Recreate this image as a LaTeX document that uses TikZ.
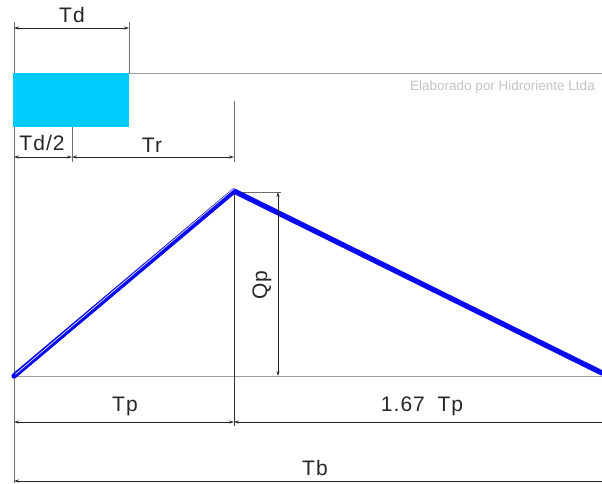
\documentclass[tikz,border=0pt]{standalone}
\usetikzlibrary{arrows.meta}
\usepackage{fontspec}
\setmainfont{Liberation Sans}
\definecolor{hcyan}{RGB}{0,204,255}
\definecolor{hblue}{RGB}{10,10,240}
\definecolor{extgray}{RGB}{110,110,110}
\definecolor{lightgray}{RGB}{160,160,160}
\definecolor{wmgray}{RGB}{195,195,195}
\tikzset{
  dimline/.style={draw=black!85, line width=0.7pt, {Stealth[length=5pt,width=3pt]}-{Stealth[length=5pt,width=3pt]}},
  extline/.style={draw=extgray, line width=0.6pt},
  guideline/.style={draw=lightgray, line width=0.8pt},
  lbl/.style={font=\fontsize{21}{21}\selectfont\addfontfeatures{LetterSpace=5}, text=black!85, inner sep=0pt},
  hydro/.style={draw=hblue, line width=5.3pt, line cap=round, line join=miter},
}
\begin{document}
\begin{tikzpicture}[x=1pt,y=-1pt]
\useasboundingbox (0,0) rectangle (602,483);
% key points
\coordinate (O) at (14,376);
\coordinate (P) at (234,191);
\coordinate (E) at (602,373);
% guide lines
\draw[guideline] (129,73) -- (602,73);
\draw[guideline] (14,376) -- (602,376);
% extension lines
\draw[extline] (14,22) -- (14,483);
\draw[extline] (129,22) -- (129,73);
\draw[extline] (72,127) -- (72,162);
\draw[extline] (234,101) -- (234,162);
\draw[extline, draw=black!80] (234,191) -- (234,426);
\draw[extline] (234,192) -- (281,192);
% rain block
\fill[hcyan] (13,73) rectangle (129,127);
% hydrograph
\draw[hydro] (O) -- (P) -- (E);
\draw[white, line width=0.6pt] ([yshift=1.8pt,xshift=1.4pt]O) -- ([yshift=2.9pt,xshift=0.7pt]P);
% dimension coordinates
\coordinate (tdA) at (14,28);   \coordinate (tdB) at (129,28);
\coordinate (thA) at (14,157);  \coordinate (thB) at (72,157);
\coordinate (trA) at (72,157);  \coordinate (trB) at (234,157);
\coordinate (qA) at (278,192);  \coordinate (qB) at (278,376);
\coordinate (tpA) at (14,422);  \coordinate (tpB) at (234,422);
\coordinate (tqA) at (234,422); \coordinate (tqB) at (608,422);
\coordinate (tbA) at (14,481);  \coordinate (tbB) at (608,481);
\draw[dimline] (tdA) -- (tdB);
\draw[dimline] (thA) -- (thB);
\draw[dimline] (trA) -- (trB);
\draw[dimline] (qA) -- (qB);
\draw[dimline] (tpA) -- (tpB);
\draw[dimline] (tqA) -- (tqB);
\draw[dimline] (tbA) -- (tbB);
% labels
\node[lbl] (lTd) at (72,15) {Td};
\node[lbl] (lTd2) at (42,143) {Td/2};
\node[lbl] (lTr) at (152,145) {Tr};
\node[lbl, rotate=90] (lQp) at (262,285) {Qp};
\node[lbl] (lTp) at (125,406) {Tp};
\node[lbl] (l167) at (422,406) {1.67\hspace{0.6em}Tp};
\node[lbl] (lTb) at (315,468) {Tb};
\node[font=\fontsize{13.5}{13.5}\selectfont, text=wmgray, anchor=east, inner sep=0pt] (wm) at (595,87) {Elaborado por Hidroriente Ltda};
\end{tikzpicture}
\end{document}
